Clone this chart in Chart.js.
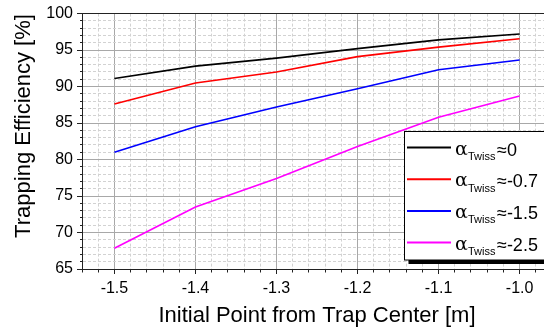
<!DOCTYPE html>
<html>
<head>
<meta charset="utf-8">
<script src="https://cdn.jsdelivr.net/npm/chart.js@4/dist/chart.umd.min.js"></script>
<style>
  html, body { margin: 0; padding: 0; background: #fff; overflow: hidden; }
  #wrap { width: 544px; height: 331px; overflow: hidden; position: relative; }
  canvas { display: block; }
</style>
</head>
<body>
<div id="wrap"><canvas id="c" width="557" height="331"></canvas></div>
<script>
// ---- data ----
const xValues = [-1.5, -1.4, -1.3, -1.2, -1.1, -1.0];
const alpha0  = [91.1, 92.8, 93.9, 95.2, 96.4, 97.2];
const alpha07 = [87.6, 90.5, 92.0, 94.1, 95.4, 96.55];
const alpha15 = [81.0, 84.5, 87.2, 89.7, 92.3, 93.65];
const alpha25 = [67.85, 73.5, 77.4, 81.8, 85.8, 88.7];
const seriesLabels = ['≈0', '≈-0.7', '≈-1.5', '≈-2.5'];
const seriesColors = ['#000000', '#ff0000', '#0000ff', '#ff00ff'];
const xTickLabels = ['-1.5', '-1.4', '-1.3', '-1.2', '-1.1', '-1.0'];
const yTickLabels = ['65', '70', '75', '80', '85', '90', '95', '100'];
const xTitle = 'Initial Point from Trap Center [m]';
const yTitle = 'Trapping Efficiency [%]';

const X_MIN = -1.54, X_MAX = -0.96, X_MINOR = 0.02;
const Y_MIN = 65, Y_MAX = 100, Y_MINOR = 1;

const FONT = "'Liberation Sans', Arial, sans-serif";

function xLabelFor(v) {
  const l = xTickLabels.find(s => Math.abs(parseFloat(s) - v) < 1e-6);
  return l === undefined ? '' : l;
}
function yLabelFor(v) {
  const l = yTickLabels.find(s => Math.abs(parseFloat(s) - v) < 1e-6);
  return l === undefined ? '' : l;
}
const xMajor = v => xLabelFor(v) !== '';
const yMajor = v => yLabelFor(v) !== '';

const allSeries = [alpha0, alpha07, alpha15, alpha25];
const datasets = allSeries.map((arr, i) => ({
  label: seriesLabels[i],
  data: xValues.map((x, j) => ({ x: x, y: arr[j] })),
  borderColor: seriesColors[i],
  backgroundColor: seriesColors[i],
  borderWidth: 1.6,
  pointRadius: 0,
  tension: 0,
  fill: false
}));

const yTitlePlugin = {
  id: 'yTitle',
  afterDraw(chart) {
    const ctx = chart.ctx;
    ctx.save();
    ctx.translate(23.5, 126);
    ctx.rotate(-Math.PI / 2);
    ctx.fillStyle = '#000';
    ctx.font = "22px " + FONT;
    ctx.textAlign = 'center';
    ctx.textBaseline = 'middle';
    ctx.fillText(yTitle, 0, 0);
    ctx.restore();
  }
};

const legendPlugin = {
  id: 'alphaLegend',
  afterDraw(chart) {
    const ctx = chart.ctx;
    const bx = 404.5, by = 131.5, bw = 170, bh = 128.5;
    ctx.save();
    ctx.fillStyle = '#000';
    ctx.fillRect(bx + 4, by + 4, bw, bh);
    ctx.fillStyle = '#fff';
    ctx.fillRect(bx, by, bw, bh);
    ctx.strokeStyle = '#000';
    ctx.lineWidth = 1;
    ctx.strokeRect(bx, by, bw, bh);
    chart.data.datasets.forEach((ds, i) => {
      const y = 147.5 + i * 31.7;
      ctx.strokeStyle = ds.borderColor;
      ctx.lineWidth = 2;
      ctx.beginPath();
      ctx.moveTo(407, y);
      ctx.lineTo(451, y);
      ctx.stroke();
      ctx.fillStyle = '#000';
      ctx.textAlign = 'left';
      ctx.textBaseline = 'alphabetic';
      ctx.font = "19px 'DejaVu Serif', serif";
      ctx.fillText('α', 455, y + 7);
      ctx.font = "11px " + FONT;
      ctx.fillText('Twiss', 468, y + 12.5);
      ctx.font = "18px " + FONT;
      ctx.fillText(ds.label, 497, y + 8);
    });
    ctx.restore();
  }
};

new Chart(document.getElementById('c'), {
  type: 'line',
  data: { datasets: datasets },
  plugins: [yTitlePlugin, legendPlugin],
  options: {
    responsive: false,
    animation: false,
    devicePixelRatio: 1,
    layout: { padding: { top: 12, left: 0, right: 0, bottom: 0 } },
    plugins: { legend: { display: false }, tooltip: { enabled: false } },
    scales: {
      x: {
        type: 'linear',
        min: X_MIN, max: X_MAX,
        afterBuildTicks: (s) => {
          const t = [];
          for (let k = 0; X_MIN + k * X_MINOR <= X_MAX + 1e-9; k++) {
            t.push({ value: Math.round((X_MIN + k * X_MINOR) * 1000) / 1000 });
          }
          s.ticks = t;
        },
        afterFit: (s) => { s.height = 62; },
        ticks: {
          autoSkip: false, maxRotation: 0, minRotation: 0,
          padding: 5,
          color: '#000',
          font: { family: FONT, size: 16 },
          callback: (v) => xLabelFor(v)
        },
        grid: {
          color: (c) => (c.tick && xMajor(c.tick.value)) ? '#a8a8a8' : '#d2d2d2',
          lineWidth: 1,
          tickLength: 5,
          tickColor: '#222',
          tickBorderDash: (c) => (c.tick && !xMajor(c.tick.value)) ? [2.5, 10] : []
        },
        border: {
          display: true, color: '#222', width: 1,
          dash: (c) => (c.tick && !xMajor(c.tick.value)) ? [3, 2] : []
        },
        title: {
          display: true, text: xTitle, color: '#000',
          font: { family: FONT, size: 22 },
          padding: { top: 0, bottom: 2 }
        }
      },
      y: {
        type: 'linear',
        min: Y_MIN, max: Y_MAX,
        afterBuildTicks: (s) => {
          const t = [];
          for (let v = Y_MIN; v <= Y_MAX; v += Y_MINOR) t.push({ value: v });
          s.ticks = t;
        },
        afterFit: (s) => { s.width = 82; },
        ticks: {
          autoSkip: false,
          padding: 4,
          color: '#000',
          font: { family: FONT, size: 16 },
          callback: (v) => yLabelFor(v)
        },
        grid: {
          color: (c) => {
            if (!c.tick) return '#d2d2d2';
            if (c.tick.value === Y_MAX) return '#222';
            return yMajor(c.tick.value) ? '#a8a8a8' : '#d2d2d2';
          },
          lineWidth: 1,
          tickLength: 5,
          tickColor: '#222',
          tickBorderDash: (c) => (c.tick && !yMajor(c.tick.value)) ? [2.5, 3] : [],
          tickBorderDashOffset: (c) => (c.tick && !yMajor(c.tick.value)) ? 2.5 : 0
        },
        border: {
          display: true, color: '#222', width: 1,
          dash: (c) => (c.tick && !yMajor(c.tick.value)) ? [3, 2] : []
        },
        title: { display: false }
      }
    }
  }
});
</script>
</body>
</html>
